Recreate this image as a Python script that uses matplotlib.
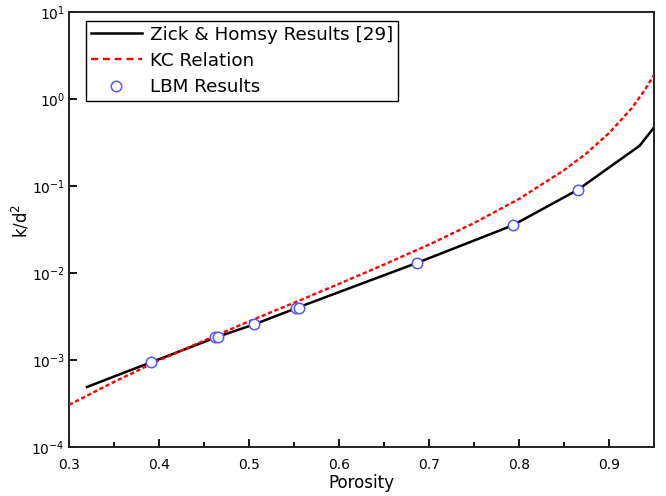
import matplotlib
matplotlib.use("Agg")
import matplotlib.pyplot as plt
from matplotlib.lines import Line2D
from matplotlib.ticker import MultipleLocator, LogLocator, NullLocator

# Zick & Homsy results
zh_porosity = [0.32, 0.391, 0.464, 0.506, 0.554, 0.687, 0.793, 0.865, 0.934, 0.95]
zh_k = [4.9e-4, 9.4e-4, 1.83e-3, 2.57e-3, 4.0e-3, 1.31e-2, 3.53e-2, 9.0e-2, 0.29, 0.47]

# KC relation
kc_porosity = [0.30, 0.35, 0.40, 0.45, 0.50, 0.55, 0.60, 0.65, 0.70, 0.75, 0.80, 0.85, 0.875, 0.90, 0.925, 0.94, 0.95]
kc_k = [3.05e-4, 5.6e-4, 9.9e-4, 1.67e-3, 2.78e-3, 4.55e-3, 7.5e-3, 1.25e-2, 2.12e-2, 3.75e-2, 7.1e-2, 0.152, 0.238, 0.405, 0.78, 1.28, 1.9]

# LBM results
lbm_porosity = [0.391, 0.462, 0.466, 0.506, 0.552, 0.556, 0.687, 0.793, 0.865]
lbm_k = [9.4e-4, 1.82e-3, 1.85e-3, 2.57e-3, 4.0e-3, 4.0e-3, 1.31e-2, 3.53e-2, 9.0e-2]

labels = ["Zick & Homsy Results [29]", "KC Relation", "LBM Results"]

fig = plt.figure(figsize=(6.66, 4.96), dpi=100)
ax = fig.add_axes([69/666, 1-447/496, (654-69)/666, (447-12)/496])

ax.plot(zh_porosity, zh_k, color="black", lw=1.8, zorder=2)
ax.plot(kc_porosity, kc_k, color="red", lw=1.7, dashes=(1.8, 1.1), zorder=3)
ax.plot(lbm_porosity, lbm_k, ls="none", marker="o", ms=7.5, mfc="white",
        mec="#5555ff", mew=1.1, zorder=4)

ax.set_yscale("log")
ax.set_xlim(0.3, 0.95)
ax.set_ylim(1e-4, 1e1)

ax.xaxis.set_major_locator(MultipleLocator(0.1))
ax.xaxis.set_minor_locator(MultipleLocator(0.05))
ax.yaxis.set_major_locator(LogLocator(base=10, numticks=10))
ax.yaxis.set_minor_locator(NullLocator())
ax.tick_params(axis="both", which="both", direction="in", top=False, right=False,
               labelsize=10, color="black", width=1.3)
ax.tick_params(which="major", length=6)
ax.tick_params(which="minor", length=3.5)
ax.tick_params(axis="x", pad=8)
ax.tick_params(axis="y", pad=3)
for s in ax.spines.values():
    s.set_linewidth(1.4)
    s.set_color("#222222")

ax.set_xlabel("Porosity", fontsize=12, labelpad=1)
ax.set_ylabel("k/d$^2$", fontsize=12)
ax.yaxis.set_label_coords(-0.064, 0.52)

handles = [
    Line2D([], [], color="black", lw=1.8),
    Line2D([], [], color="red", lw=1.7, dashes=(3, 2)),
    Line2D([], [], ls="none", marker="o", ms=7.5, mfc="white", mec="#5555ff", mew=1.1),
]
leg = ax.legend(handles, labels, loc="upper left", bbox_to_anchor=(17/585, 1-9/435),
                borderaxespad=0, fontsize=13.2, frameon=True, fancybox=False,
                edgecolor="black", framealpha=1, handlelength=2.8,
                handletextpad=0.45, labelspacing=0.45, borderpad=0.25)
leg.get_frame().set_linewidth(1.0)

fig.savefig("out.png", dpi=100)
